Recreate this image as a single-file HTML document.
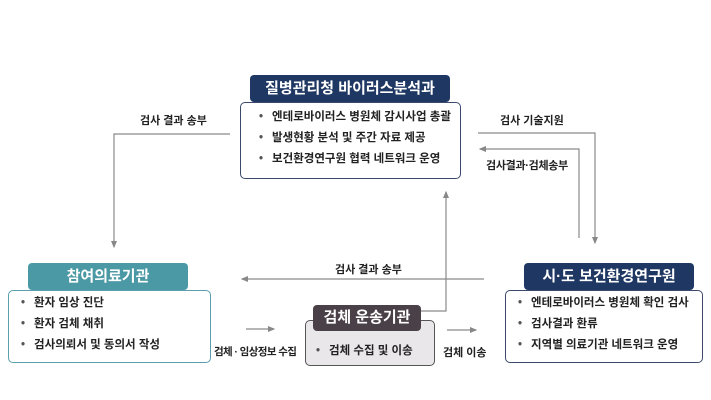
<!DOCTYPE html>
<html><head><meta charset="utf-8"><style>
body{margin:0;width:711px;height:400px;background:#fff;position:relative;overflow:hidden;font-family:"Liberation Sans","Noto Sans CJK KR",sans-serif;}
.a{position:absolute;box-sizing:border-box;}
.hd{color:#fff;font-weight:bold;font-size:15px;text-align:center;border-radius:4px;z-index:2;}
.bx{border:1.5px solid #3b4a6b;border-radius:5px;background:#fff;font-size:11.5px;font-weight:bold;color:#222;}
.bx div{height:21px;line-height:21px;}
.bx div:before{content:"•";color:#555;margin:0 9px 0 0;}
.lb{font-size:11px;font-weight:bold;color:#222;white-space:nowrap;}
</style></head><body>
<svg class="a" style="left:0;top:0" width="711" height="400">
<defs><marker id="m" markerWidth="6" markerHeight="6" refX="5" refY="3" orient="auto"><path d="M0,0.5L6,3L0,5.5z" fill="#888"/></marker></defs>
<g stroke="#8a8a8a" stroke-width="1.2" fill="none">
<polyline points="230,134 114,134 114,247" marker-end="url(#m)"/>
<polyline points="478,133 595,133 595,243" marker-end="url(#m)"/>
<polyline points="579,238 579,149 480,149" marker-end="url(#m)"/>
<line x1="484" y1="279" x2="242" y2="279" marker-end="url(#m)"/>
<polyline points="421,311 446,311 446,192" marker-end="url(#m)"/>
<line x1="246" y1="329" x2="274" y2="329" marker-end="url(#m)"/>
<line x1="447" y1="330" x2="476" y2="330" marker-end="url(#m)"/>
</g></svg>
<div class="a hd" style="left:250px;top:75px;width:200px;height:27px;line-height:27px;background:#1f3863">질병관리청 바이러스분석과</div>
<div class="a bx" style="left:240px;top:102px;width:221px;height:77px;padding:4px 0 0 18px">
<div>엔테로바이러스 병원체 감시사업 총괄</div><div>발생현황 분석 및 주간 자료 제공</div><div>보건환경연구원 협력 네트워크 운영</div></div>
<div class="a lb" style="left:140px;top:112px">검사 결과 송부</div>
<div class="a lb" style="left:500px;top:112px">검사 기술지원</div>
<div class="a lb" style="left:486px;top:157px;letter-spacing:-0.3px">검사결과·검체송부</div>
<div class="a lb" style="left:335px;top:261px">검사 결과 송부</div>
<div class="a hd" style="left:28px;top:263px;width:160px;height:27px;line-height:27px;background:#4b99a4">참여의료기관</div>
<div class="a bx" style="left:8px;top:290px;width:203px;height:73px;padding:2px 0 0 12px;border-color:#5aa0ac">
<div>환자 임상 진단</div><div>환자 검체 채취</div><div>검사의뢰서 및 동의서 작성</div></div>
<div class="a hd" style="left:524px;top:263px;width:170px;height:27px;line-height:27px;background:#1f3863">시·도 보건환경연구원</div>
<div class="a bx" style="left:505px;top:290px;width:198px;height:73px;padding:2px 0 0 12px">
<div>엔테로바이러스 병원체 확인 검사</div><div>검사결과 환류</div><div>지역별 의료기관 네트워크 운영</div></div>
<div class="a hd" style="left:313px;top:305px;width:108px;height:26px;line-height:26px;background:#4a4048">검체 운송기관</div>
<div class="a bx" style="left:305px;top:320px;width:130px;height:46px;padding:21px 0 0 10px;background:#e9e7ea;border-color:#555">
<div style="height:18px;line-height:18px">검체 수집 및 이송</div></div>
<div class="a lb" style="left:214px;top:344px;font-size:10.5px;letter-spacing:-0.6px">검체 · 임상정보 수집</div>
<div class="a lb" style="left:443px;top:344px">검체 이송</div>
</body></html>
